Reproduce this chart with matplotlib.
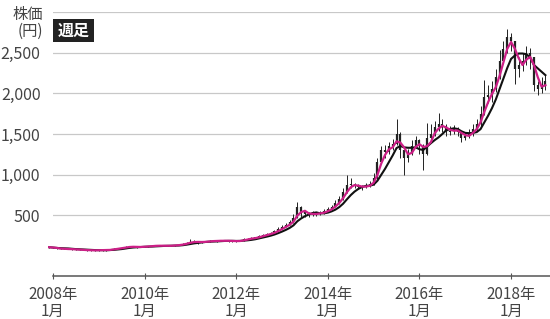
import matplotlib
matplotlib.use("Agg")
import matplotlib.pyplot as plt
from matplotlib.patches import Rectangle
import numpy as np
import pandas as pd

plt.rcParams['font.family'] = ['Noto Sans CJK JP', 'DejaVu Sans']

# Monthly data, first entry = 2007-12, last = 2018-10
close = [105,
    95, 88, 82, 85, 80, 78, 75, 72, 70, 65, 66, 68,
    68, 66, 70, 78, 85, 92, 100, 110, 112, 108, 105, 110,
    115, 118, 122, 125, 122, 120, 122, 125, 130, 135, 145, 160,
    175, 170, 165, 172, 175, 180, 185, 182, 185, 185, 182, 180,
    178, 185, 205, 210, 215, 225, 240, 255, 265, 280, 300, 330,
    355, 380, 410, 470, 600, 540, 520, 505, 520, 515, 530, 545,
    570, 600, 650, 700, 780, 870, 880, 860, 850, 845, 860, 880,
    960, 1150, 1300, 1280, 1350, 1380, 1500, 1300, 1200, 1250, 1350, 1420,
    1350, 1250, 1450, 1500, 1580, 1620, 1600, 1520, 1540, 1560, 1530, 1450,
    1480, 1500, 1560, 1620, 1750, 1950, 1980, 2050, 2200, 2400, 2550, 2700,
    2650, 2300, 2350, 2400, 2500, 2450, 2100, 2050, 2100, 2150]
high = [112,
    108, 96, 90, 90, 88, 84, 80, 78, 75, 72, 70, 72,
    73, 70, 74, 82, 90, 98, 106, 118, 122, 115, 110, 115,
    122, 124, 128, 132, 128, 126, 128, 130, 136, 142, 155, 170,
    205, 190, 178, 180, 182, 188, 195, 192, 192, 190, 188, 186,
    186, 195, 215, 220, 225, 235, 252, 270, 280, 295, 318, 350,
    380, 405, 440, 520, 660, 610, 560, 535, 545, 540, 555, 570,
    600, 630, 690, 740, 830, 990, 960, 900, 880, 870, 890, 920,
    1020, 1200, 1350, 1360, 1400, 1440, 1680, 1520, 1300, 1320, 1420, 1480,
    1440, 1380, 1640, 1620, 1660, 1764, 1680, 1620, 1600, 1610, 1590, 1540,
    1530, 1560, 1620, 1690, 1850, 2170, 2100, 2150, 2300, 2540, 2650, 2790,
    2750, 2650, 2450, 2500, 2580, 2560, 2450, 2150, 2200, 2230]
low = [100,
    90, 84, 78, 80, 77, 75, 72, 69, 66, 60, 62, 64,
    64, 62, 64, 70, 78, 85, 92, 100, 106, 102, 98, 104,
    110, 112, 116, 120, 115, 114, 117, 119, 124, 129, 135, 145,
    158, 162, 150, 162, 168, 172, 178, 172, 176, 178, 175, 174,
    172, 176, 184, 200, 202, 210, 224, 238, 250, 262, 278, 298,
    328, 350, 375, 405, 465, 480, 475, 480, 495, 495, 505, 520,
    540, 560, 595, 640, 690, 770, 840, 830, 825, 815, 835, 850,
    870, 950, 1130, 1200, 1250, 1300, 1360, 1200, 1000, 1150, 1240, 1330,
    1250, 1060, 1240, 1420, 1480, 1540, 1520, 1480, 1490, 1500, 1470, 1400,
    1420, 1450, 1480, 1540, 1600, 1740, 1880, 1900, 2020, 2180, 2380, 2500,
    2520, 2120, 2200, 2280, 2350, 2300, 2030, 1980, 2000, 2040]

start_month = -1  # months from 2008-01
tick_months = [0, 24, 48, 72, 96, 120]
tick_labels = ["2008年\n1月", "2010年\n1月", "2012年\n1月",
               "2014年\n1月", "2016年\n1月", "2018年\n1月"]
y_ticks = [500, 1000, 1500, 2000, 2500]

df = pd.DataFrame({"close": close, "high": high, "low": low})
df["x"] = np.arange(len(df)) + start_month
df["open"] = df["close"].shift(1).fillna(df["close"])
df["ma_short"] = df["close"].rolling(3, min_periods=1).mean()
df["ma_long"] = df["close"].rolling(6, min_periods=1).mean()

fig = plt.figure(figsize=(5.5, 3.19), dpi=100)
ax = fig.add_axes([53/550, 1 - 276/319, 1 - 53/550, (276 - 12.25)/319])
ax.set_xlim(0, 130.2)
ax.set_ylim(-250, 3000)

for v in [500, 1000, 1500, 2000, 2500, 3000]:
    ax.axhline(v, color='#c8c8c8', lw=0.9, zorder=0)

ax.vlines(df["x"], df["low"], df["high"], color='#222222', lw=0.7, zorder=2, clip_on=False)
lo = np.minimum(df["open"], df["close"])
hi = np.maximum(df["open"], df["close"])
ax.vlines(df["x"], lo, hi, color='#222222', lw=1.6, zorder=2, clip_on=False)

ax.plot(df["x"], df["ma_long"], color='#111111', lw=1.5, zorder=3, clip_on=False)
ax.plot(df["x"], df["ma_short"], color='#cc1f87', lw=1.6, zorder=4, clip_on=False)

for s in ['top', 'right', 'left']:
    ax.spines[s].set_visible(False)
ax.spines['bottom'].set_color('#555555')
ax.spines['bottom'].set_linewidth(1.1)

ax.set_yticks(y_ticks)
ax.set_yticklabels([f"{v:,}" for v in y_ticks])
ax.tick_params(axis='y', length=0, pad=9, labelsize=11.5, labelcolor='#444444')
ax.set_xticks(tick_months)
ax.set_xticklabels(tick_labels, linespacing=1.0)
ax.tick_params(axis='x', direction='inout', length=5, width=0.8, color='#555555',
               labelsize=11, labelcolor='#444444', pad=5)

fig.text(43/550, 1 - 6/319, "株価\n(円)", ha='right', va='top', fontsize=11,
         color='#444444', linespacing=1.0)
fig.patches.append(Rectangle((53/550, 1 - 42/319), 41/550, 23/319,
                             transform=fig.transFigure, fc='#222222', ec='none'))
fig.text(73.5/550, 1 - 30.5/319, "週足", ha='center', va='center', fontsize=11.5,
         color='white', fontweight='bold')

fig.savefig("out.png", dpi=100)
